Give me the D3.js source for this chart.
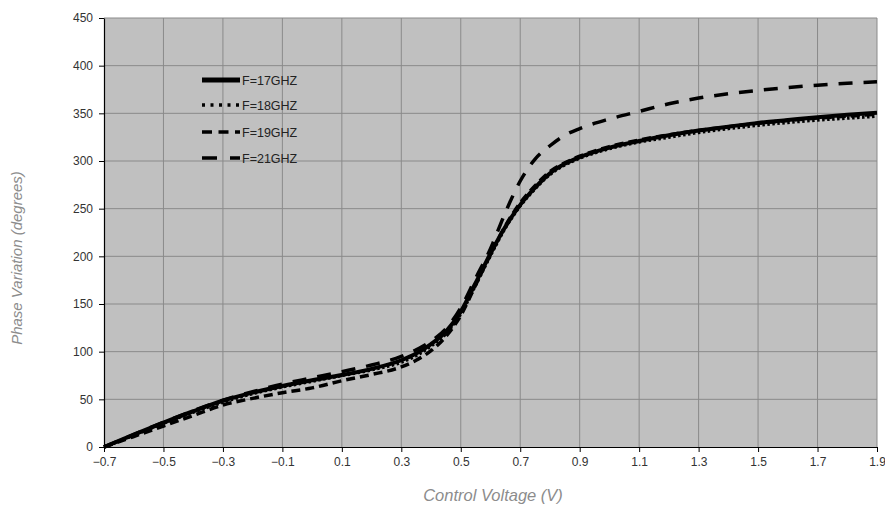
<!DOCTYPE html>
<html>
<head>
<meta charset="utf-8">
<script src="https://cdn.jsdelivr.net/npm/d3@7"></script>
<style>
  html, body { margin: 0; padding: 0; background: #fff; }
  svg { display: block; }
</style>
</head>
<body>
<svg id="chart" width="885" height="506"></svg>
<script>
// ---- data ----
const voltages = [-0.7, -0.6, -0.5, -0.4, -0.3, -0.2, -0.1, 0, 0.1, 0.2, 0.3, 0.35, 0.4, 0.45, 0.5, 0.55, 0.6, 0.65, 0.7, 0.75, 0.8, 0.85, 0.9, 1.0, 1.1, 1.2, 1.3, 1.4, 1.5, 1.6, 1.7, 1.8, 1.9];
const f17 = [0, 13, 25.5, 37.5, 48.5, 57, 64, 70, 75.5, 82, 91, 98, 108, 121, 142, 172, 203, 231, 254, 272, 287, 297, 304, 314, 321, 327, 332, 336, 340, 343, 346, 348.5, 350.5];
const f18 = [0, 12.5, 25, 36.5, 47, 56, 63, 69, 75, 81, 89, 96, 106, 119, 140, 170, 201, 230, 253, 271, 286, 296, 303, 313, 320, 325, 330, 334, 337.5, 340.5, 343, 345, 347];
const f19 = [0, 11, 22, 33, 44, 51, 57, 62, 69.5, 76, 84, 91, 101, 116, 138, 170, 202, 232, 256, 274, 289, 298, 305, 315, 322, 327.5, 332, 336, 339.5, 342.5, 345, 347, 349];
const f21 = [0, 13, 26, 38, 49, 58, 66, 72.5, 79, 86, 95, 102, 111, 124, 146, 177, 208, 246, 279, 302, 316, 327, 334, 344, 352, 360, 366, 370.5, 374, 377, 379.5, 381.5, 383];
const seriesNames = ["F=17GHZ", "F=18GHZ", "F=19GHZ", "F=21GHZ"];
const xTicks = [-0.7, -0.5, -0.3, -0.1, 0.1, 0.3, 0.5, 0.7, 0.9, 1.1, 1.3, 1.5, 1.7, 1.9];
const yTicks = [0, 50, 100, 150, 200, 250, 300, 350, 400, 450];

const series = [
  { name: seriesNames[0], values: f17, dash: null, width: 4 },
  { name: seriesNames[1], values: f18, dash: "2.5,2.5", width: 3.5 },
  { name: seriesNames[2], values: f19, dash: "9,5", width: 3.5 },
  { name: seriesNames[3], values: f21, dash: "14,11", width: 3.5 }
];

// ---- layout ----
const svg = d3.select("#chart");
const pL = 104, pR = 877, pT = 18, pB = 447;

const x = d3.scaleLinear().domain([-0.7, 1.9]).range([pL, pR]);
const y = d3.scaleLinear().domain([0, 450]).range([pB, pT]);

// plot background
svg.append("rect")
  .attr("x", pL).attr("y", pT)
  .attr("width", pR - pL).attr("height", pB - pT)
  .attr("fill", "#c0c0c0");

// grid
const grid = svg.append("g");
grid.selectAll(".vg").data(xTicks.slice(1)).enter().append("line")
  .attr("x1", d => x(d)).attr("x2", d => x(d))
  .attr("y1", pT).attr("y2", pB)
  .attr("stroke", "#8a8a8a").attr("stroke-width", 1);
grid.selectAll(".hg").data(yTicks.slice(1)).enter().append("line")
  .attr("x1", pL).attr("x2", pR)
  .attr("y1", d => y(d)).attr("y2", d => y(d))
  .attr("stroke", "#8a8a8a").attr("stroke-width", 1);

// axes
const yAxis = svg.append("g")
  .attr("transform", `translate(${pL},0)`)
  .call(d3.axisLeft(y).tickValues(yTicks).tickSize(5).tickSizeOuter(0).tickPadding(6));
yAxis.selectAll("text")
  .attr("font-family", "Liberation Sans, Arial, sans-serif")
  .attr("font-size", 12).attr("fill", "#333");

const xAxis = svg.append("g")
  .attr("transform", `translate(0,${pB})`)
  .call(d3.axisBottom(x).tickValues(xTicks).tickSize(5).tickSizeOuter(0).tickPadding(5)
        .tickFormat(d3.format(".1f")));
xAxis.selectAll("text")
  .attr("font-family", "Liberation Sans Narrow, Arial Narrow, Liberation Sans, sans-serif")
  .attr("font-size", 12).attr("fill", "#333");

[yAxis, xAxis].forEach(a => {
  a.select(".domain").attr("stroke", "#000").attr("stroke-width", 1.2);
  a.selectAll(".tick line").attr("stroke", "#000");
});

// lines
const line = d3.line()
  .x((d, i) => x(voltages[i]))
  .y(d => y(d))
  .curve(d3.curveMonotoneX);

svg.append("g").selectAll("path").data(series).enter().append("path")
  .attr("d", d => line(d.values))
  .attr("fill", "none")
  .attr("stroke", "#000")
  .attr("stroke-width", d => d.width)
  .attr("stroke-dasharray", d => d.dash)
  .attr("stroke-linejoin", "round");

// legend
const legendDash = [null, "3,5.5", "10,6.5", "15,13"];
const legend = svg.append("g");
const rowsY = [80, 105, 132, 158];
series.forEach((s, i) => {
  legend.append("line")
    .attr("x1", 202).attr("x2", 240)
    .attr("y1", rowsY[i]).attr("y2", rowsY[i])
    .attr("stroke", "#000")
    .attr("stroke-width", i === 0 ? 5 : 3.5)
    .attr("stroke-dasharray", legendDash[i]);
  legend.append("text")
    .attr("x", 242).attr("y", rowsY[i] + 4.5)
    .attr("font-family", "Liberation Sans, Arial, sans-serif")
    .attr("font-size", 12.5).attr("fill", "#222")
    .text(s.name);
});

// axis titles
svg.append("text")
  .attr("transform", "translate(22,258) rotate(-90)")
  .attr("text-anchor", "middle")
  .attr("font-family", "Liberation Sans, Arial, sans-serif")
  .attr("font-style", "italic")
  .attr("font-size", 15).attr("fill", "#8c8c8c")
  .text("Phase Variation (degrees)");

svg.append("text")
  .attr("x", 493).attr("y", 501)
  .attr("text-anchor", "middle")
  .attr("font-family", "Liberation Sans Narrow, Arial Narrow, Liberation Sans, sans-serif")
  .attr("font-style", "italic")
  .attr("font-size", 16.5).attr("fill", "#8c8c8c")
  .text("Control Voltage (V)");
</script>
</body>
</html>
